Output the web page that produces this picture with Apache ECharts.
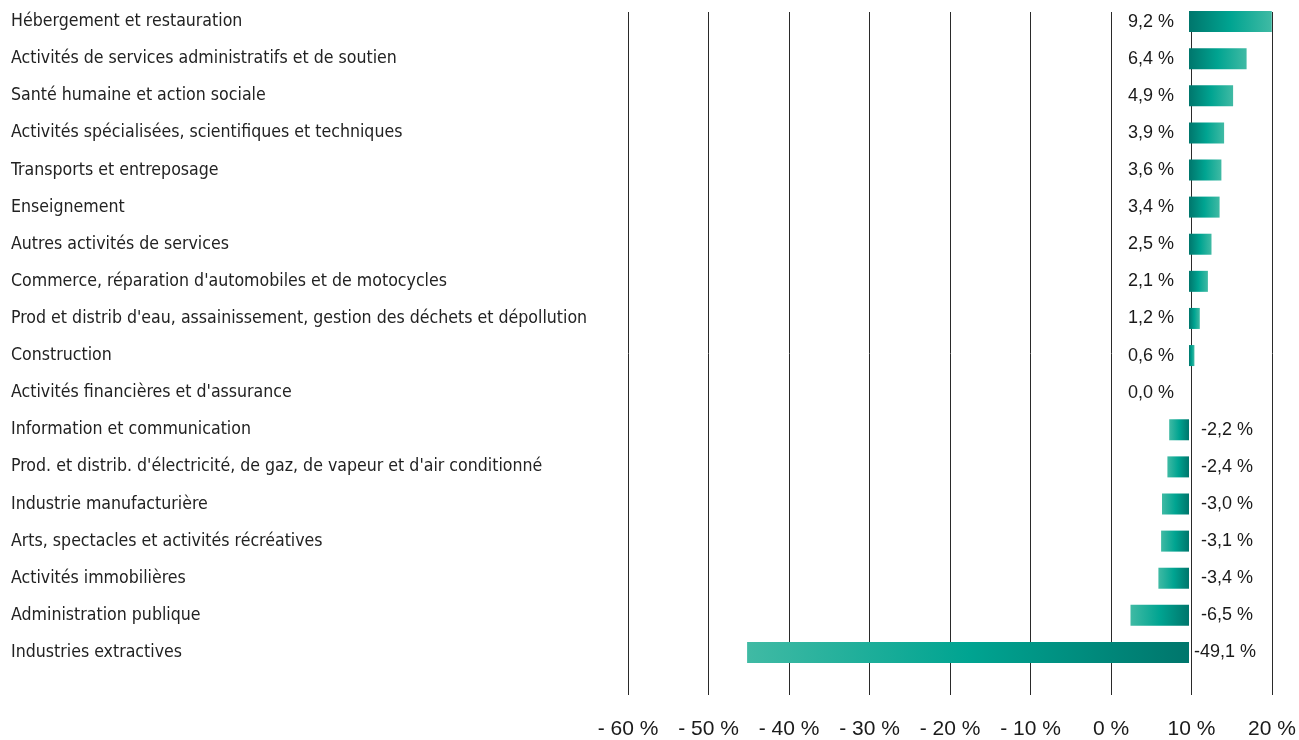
<!DOCTYPE html>
<html>
<head>
<meta charset="utf-8">
<script src="https://cdn.jsdelivr.net/npm/echarts@6/dist/echarts.min.js"></script>
<style>
html,body{margin:0;padding:0;background:#fff;}
#chart{width:1299px;height:740px;}
</style>
</head>
<body>
<div id="chart"></div>
<script>
const categories = [
  "Hébergement et restauration",
  "Activités de services administratifs et de soutien",
  "Santé humaine et action sociale",
  "Activités spécialisées, scientifiques et techniques",
  "Transports et entreposage",
  "Enseignement",
  "Autres activités de services",
  "Commerce, réparation d'automobiles et de motocycles",
  "Prod et distrib d'eau, assainissement, gestion des déchets et dépollution",
  "Construction",
  "Activités financières et d'assurance",
  "Information et communication",
  "Prod. et distrib. d'électricité, de gaz, de vapeur et d'air conditionné",
  "Industrie manufacturière",
  "Arts, spectacles et activités récréatives",
  "Activités immobilières",
  "Administration publique",
  "Industries extractives"
];
const values = [9.2, 6.4, 4.9, 3.9, 3.6, 3.4, 2.5, 2.1, 1.2, 0.6, 0.0, -2.2, -2.4, -3.0, -3.1, -3.4, -6.5, -49.1];
const xTicks = [-60, -50, -40, -30, -20, -10, 0, 10, 20];

const gridLeft = 628, gridRight = 27;
const zeroPx = 1189, pxPerUnit = 9.0;
const plotW = 1299 - gridLeft - gridRight;
const barMin = -(zeroPx - gridLeft) / pxPerUnit;
const barMax = (gridLeft + plotW - zeroPx) / pxPerUnit;

const catFont = "'Liberation Sans Narrow', 'DejaVu Sans Condensed', 'Liberation Sans', sans-serif";
const numFont = "'Liberation Sans', Arial, sans-serif";

function grad(v) {
  const dark = '#00766c', mid = '#00a491', light = '#40baa4';
  const stops = v >= 0
    ? [{offset:0,color:dark},{offset:0.5,color:mid},{offset:1,color:light}]
    : [{offset:0,color:light},{offset:0.5,color:mid},{offset:1,color:dark}];
  return new echarts.graphic.LinearGradient(0,0,1,0,stops);
}
function fmt(v){ return v.toFixed(1).replace('.', ',') + ' %'; }

const barData = values.map(v => ({
  value: v,
  itemStyle: { color: grad(v) },
  label: {
    position: v >= 0 ? 'left' : 'right',
    distance: v >= 0 ? 15 : (v < -20 ? 5 : 12)
  }
}));

const chart = echarts.init(document.getElementById('chart'), null, {renderer:'canvas'});
chart.setOption({
  animation: false,
  backgroundColor: '#ffffff',
  grid: [
    { left: gridLeft, right: gridRight, top: 12, bottom: 45, containLabel: false },
    { left: gridLeft, right: gridRight, top: 3, bottom: 69, containLabel: false }
  ],
  xAxis: [
    {
      gridIndex: 0, type: 'value',
      min: xTicks[0], max: xTicks[xTicks.length-1], interval: 10,
      axisLine: {show:false}, axisTick: {show:false},
      splitLine: {show:true, lineStyle:{color:'#2a2a2a', width:1}},
      axisLabel: {
        margin: 24, color:'#1a1a1a', fontFamily: numFont, fontSize: 21,
        formatter: v => v < 0 ? '- ' + (-v) + ' %' : v + ' %'
      }
    },
    {
      gridIndex: 1, type: 'value', min: barMin, max: barMax,
      show: false, splitLine:{show:false}
    }
  ],
  yAxis: [
    { gridIndex: 0, type: 'value', show: false },
    {
      gridIndex: 1, type: 'category', data: categories, inverse: true,
      axisLine:{show:false}, axisTick:{show:false}, splitLine:{show:false},
      axisLabel: {
        align: 'left', margin: gridLeft - 11, color: '#222',
        fontFamily: catFont, fontSize: 17.6
      }
    }
  ],
  series: [
    {
      type: 'bar', xAxisIndex: 1, yAxisIndex: 1,
      data: barData, barWidth: 21,
      label: {
        show: true, color:'#1a1a1a', fontFamily: numFont, fontSize: 18,
        formatter: p => fmt(p.value)
      }
    }
  ]
});
</script>
</body>
</html>
